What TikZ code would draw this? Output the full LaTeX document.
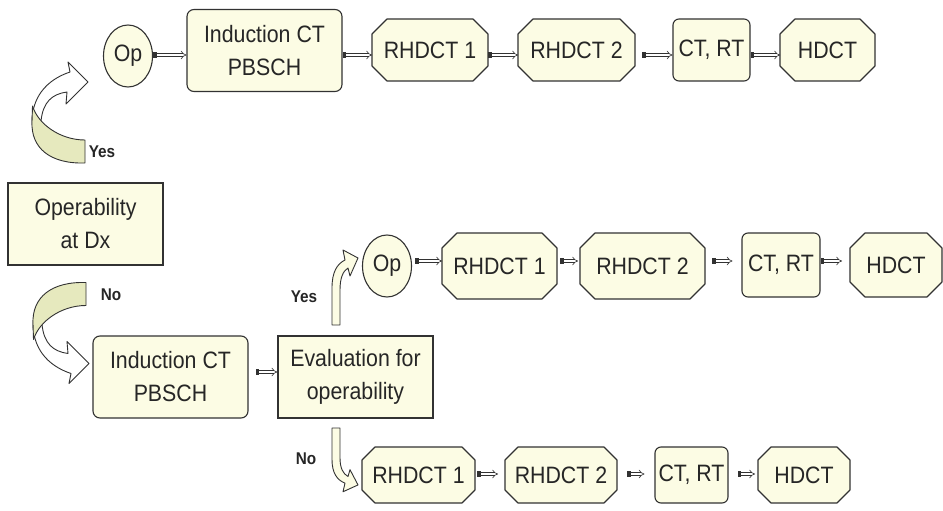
\documentclass[tikz,border=0pt]{standalone}
\usepackage{fontspec}
\setmainfont{Liberation Sans}[FakeStretch=0.9]
\usetikzlibrary{shapes.geometric,arrows.meta,calc,backgrounds}
\definecolor{boxfill}{RGB}{252,252,228}
\definecolor{edge}{RGB}{50,50,50}
\definecolor{ribbon}{RGB}{230,233,190}
\tikzset{
  lbl/.style={font=\fontsize{23.7}{33}\selectfont, align=center, text=black!85},
  rbox/.style={lbl, draw=edge, fill=boxfill, rounded corners=7pt, line width=1.1pt, minimum height=82pt, minimum width=155pt, inner sep=0pt},
  sbox/.style={lbl, draw=edge, fill=boxfill, line width=1.5pt, minimum height=82pt, minimum width=155pt, inner sep=0pt},
  ctbox/.style={lbl, draw=edge, fill=boxfill, rounded corners=6pt, line width=1.1pt, inner sep=0pt},
  octbox/.style={lbl, inner sep=0pt, outer sep=0pt},
  octline/.style={draw=edge, fill=boxfill, line width=1.1pt, line join=round},
  opcirc/.style={lbl, ellipse, draw=edge, fill=boxfill, line width=1.1pt, minimum width=49pt, minimum height=62pt, inner sep=0pt},
  conn/.style={draw=edge, line width=0.6pt, double=white, double distance=2.4pt, {Square[length=3.5pt,width=6pt]}-{Implies}},
  yn/.style={font=\bfseries\fontsize{17}{17}\selectfont, text=black!85},
  curv/.style={draw=edge, line width=0.9pt, line join=round},
}
\newcommand\octfill[2]{%
  \draw[octline] ($(#1.north west)+(#2,0)$) -- ($(#1.north east)+(-#2,0)$) -- ($(#1.north east)+(0,#2)$)
  -- ($(#1.south east)+(0,-#2)$) -- ($(#1.south east)+(-#2,0)$) -- ($(#1.south west)+(#2,0)$)
  -- ($(#1.south west)+(0,-#2)$) -- ($(#1.north west)+(0,#2)$) -- cycle;}
\begin{document}
\begin{tikzpicture}[x=1pt, y=-1pt]
\useasboundingbox (0,0) rectangle (943,511);

% row coordinates for connectors
\coordinate (rowA) at (0,55);
\coordinate (rowB) at (0,261);
\coordinate (rowM) at (0,372);
\coordinate (rowC) at (0,474);

% ---------- top row ----------
\node[opcirc] (opA) at (128,56) {Op};
\node[rbox] (indA) at (264.5,50.5) {Induction CT\\PBSCH};
\node[octbox, minimum width=116pt, minimum height=62pt] (r1A) at (430,50) {RHDCT 1};
\node[octbox, minimum width=117pt, minimum height=62pt] (r2A) at (576.5,50) {RHDCT 2};
\node[ctbox, minimum width=77pt, minimum height=62pt] (ctA) at (711.5,50) {CT, RT};
\node[octbox, minimum width=95pt, minimum height=62pt] (hdA) at (827.5,50) {HDCT};

% ---------- left column ----------
\node[sbox] (opd) at (85.5,224) {Operability\\at Dx};
\node[rbox] (indB) at (170.5,377) {Induction CT\\PBSCH};
\node[sbox] (evB) at (355.5,377) {Evaluation for\\operability};

% ---------- middle row ----------
\node[opcirc] (opB) at (387,266) {Op};
\node[octbox, minimum width=115pt, minimum height=66pt] (r1B) at (499.5,266) {RHDCT 1};
\node[octbox, minimum width=125pt, minimum height=66pt] (r2B) at (642.5,266) {RHDCT 2};
\node[ctbox, minimum width=78pt, minimum height=64pt] (ctB) at (781,265) {CT, RT};
\node[octbox, minimum width=92pt, minimum height=64pt] (hdB) at (896,265) {HDCT};

% ---------- bottom row ----------
\node[octbox, minimum width=113pt, minimum height=56pt] (r1C) at (418.5,475) {RHDCT 1};
\node[octbox, minimum width=112pt, minimum height=56pt] (r2C) at (561,475) {RHDCT 2};
\node[ctbox, minimum width=73pt, minimum height=56pt] (ctC) at (691.5,475) {CT, RT};
\node[octbox, minimum width=92pt, minimum height=56pt] (hdC) at (804,475) {HDCT};

\begin{scope}[on background layer]
  \fill[white] (0,0) rectangle (943,511);
  \octfill{r1A}{15}\octfill{r2A}{15}\octfill{hdA}{15}
  \octfill{r1B}{15}\octfill{r2B}{15}\octfill{hdB}{15}
  \octfill{r1C}{13}\octfill{r2C}{13}\octfill{hdC}{13}
\end{scope}

% ---------- connectors ----------
\draw[conn] (opA.east |- rowA) -- (indA.west |- rowA);
\draw[conn] (indA.east |- rowA) -- (r1A.west |- rowA);
\draw[conn] (r1A.east |- rowA) -- (r2A.west |- rowA);
\draw[conn, shorten <=7pt] (r2A.east |- rowA) -- (ctA.west |- rowA);
\draw[conn] (ctA.east |- rowA) -- (hdA.west |- rowA);

\draw[conn, shorten <=7pt] (indB.east |- rowM) -- (evB.west |- rowM);

\draw[conn, shorten <=3pt] (opB.east |- rowB) -- (r1B.west |- rowB);
\draw[conn, shorten <=3pt, shorten >=2pt] (r1B.east |- rowB) -- (r2B.west |- rowB);
\draw[conn, shorten <=7pt, shorten >=9pt] (r2B.east |- rowB) -- (ctB.west |- rowB);
\draw[conn, shorten >=8pt] (ctB.east |- rowB) -- (hdB.west |- rowB);

\draw[conn, shorten <=2pt, shorten >=7pt] (r1C.east |- rowC) -- (r2C.west |- rowC);
\draw[conn, shorten <=10pt, shorten >=10pt] (r2C.east |- rowC) -- (ctC.west |- rowC);
\draw[conn, shorten <=9pt, shorten >=3pt] (ctC.east |- rowC) -- (hdC.west |- rowC);

% ---------- curved "Yes" arrow (top left) ----------
\begin{scope}
  \filldraw[curv, fill=white] (32,125) .. controls (31,98) and (46,80) .. (70,72) -- (68,62) -- (88,82) -- (66,104) -- (67,92) .. controls (52,94) and (43,102) .. (41,121) -- cycle;
  \filldraw[curv, fill=ribbon] (85,140) -- (85,163) .. controls (50,164) and (31,148) .. (32,122) -- (32.5,106) .. controls (38,124) and (60,140) .. (85,140) -- cycle;
\end{scope}
% ---------- curved "No" arrow (mirror) ----------
\begin{scope}[shift={(1,445.5)}, yscale=-1]
  \filldraw[curv, fill=white] (32,125) .. controls (31,98) and (46,80) .. (70,72) -- (68,62) -- (88,82) -- (66,104) -- (67,92) .. controls (52,94) and (43,102) .. (41,121) -- cycle;
  \filldraw[curv, fill=ribbon] (85,140) -- (85,163) .. controls (50,164) and (31,148) .. (32,122) -- (32.5,106) .. controls (38,124) and (60,140) .. (85,140) -- cycle;
\end{scope}

% ---------- bent arrows from Evaluation ----------
\filldraw[curv, fill=boxfill] (332,325) -- (332,288) .. controls (332,272) and (337,264) .. (345,260) -- (343,250) -- (358,258) -- (350,276) -- (348,268) .. controls (343,271) and (340,278) .. (340,290) -- (340,325) -- cycle;
\begin{scope}[shift={(0,704.25)}, yscale=-0.85]
\filldraw[curv, fill=boxfill] (332,325) -- (332,288) .. controls (332,272) and (337,264) .. (345,260) -- (343,250) -- (358,258) -- (350,276) -- (348,268) .. controls (343,271) and (340,278) .. (340,290) -- (340,325) -- cycle;
\end{scope}

% ---------- labels ----------
\node[yn] (yesA) at (102,151.5) {Yes};
\node[yn] (noA) at (111,295) {No};
\node[yn] (yesB) at (304,297) {Yes};
\node[yn] (noB) at (306,459) {No};
\end{tikzpicture}
\end{document}
